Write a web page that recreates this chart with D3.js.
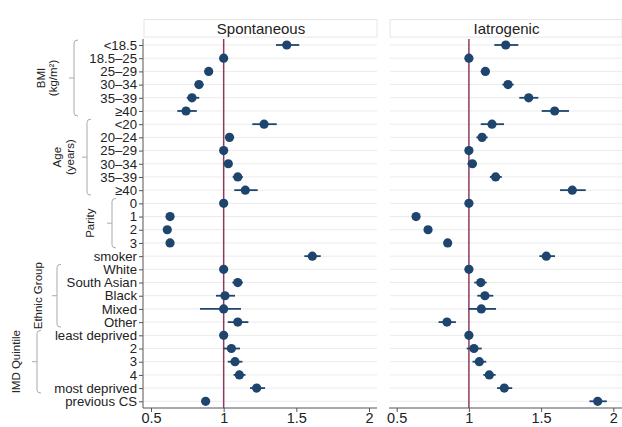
<!DOCTYPE html>
<html><head><meta charset="utf-8">
<script src="https://cdn.jsdelivr.net/npm/d3@7"></script>
<style>
html,body{margin:0;padding:0;background:#fff;}
svg{display:block;font-family:"Liberation Sans",Arial,Helvetica,sans-serif;}
</style></head><body>
<svg id="c" width="622" height="427"></svg>
<script>
const rowLabels = ["<18.5","18.5–25","25–29","30–34","35–39","≥40",
  "<20","20–24","25–29","30–34","35–39","≥40",
  "0","1","2","3","smoker",
  "White","South Asian","Black","Mixed","Other",
  "least deprived","2","3","4","most deprived","previous CS"];

const spontEst = [1.434,1,0.897,0.830,0.782,0.741, 1.278,1.040,1,1.032,1.097,1.149, 1,0.631,0.612,0.631, 1.610, 1,1.097,1.009,1.000,1.097, 1,1.053,1.078,1.108,1.227, 0.876];
const spontLo  = [1.360,null,0.870,0.800,0.746,0.681, 1.197,1.010,null,1.010,1.062,1.073, null,0.615,0.597,0.615, 1.555, null,1.060,0.947,0.837,1.028, null,1.000,1.028,1.068,1.181, 0.848];
const spontHi  = [1.520,null,0.925,0.862,0.832,0.815, 1.365,1.072,null,1.055,1.132,1.234, null,0.648,0.628,0.648, 1.668, null,1.132,1.078,1.119,1.170, null,1.112,1.129,1.150,1.285, 0.905];

const iatroEst = [1.255,1,1.114,1.271,1.414,1.594, 1.160,1.091,1,1.024,1.185,1.716, 1,0.634,0.717,0.853, 1.536, 1,1.082,1.111,1.086,0.848, 1,1.035,1.072,1.141,1.245, 1.892];
const iatroLo  = [1.176,null,1.082,1.232,1.349,1.504, 1.082,1.052,null,0.990,1.145,1.631, null,0.620,0.697,0.827, 1.488, null,1.037,1.058,0.996,0.790, null,0.985,1.025,1.100,1.195, 1.835];
const iatroHi  = [1.342,null,1.145,1.310,1.481,1.693, 1.243,1.130,null,1.055,1.228,1.809, null,0.648,0.740,0.880, 1.596, null,1.123,1.169,1.188,0.910, null,1.089,1.120,1.185,1.300, 1.955];

const groupNames = [["BMI","(kg/m²)"],["Age","(years)"],["Parity"],["Ethnic Group"],["IMD Quintile"]];
const groupStart = [0,6,12,17,22];
const groupEnd   = [5,11,15,21,26];

const xTicks = [0.5,1,1.5,2];
const panelTitles = ["Spontaneous","Iatrogenic"];

// layout
const svg = d3.select("#c");
const y = d3.scalePoint().domain(d3.range(rowLabels.length)).range([45,401.3]);
const axisY = 408;
const panels = [
  {title: panelTitles[0], left:143, right:377, x: d3.scaleLinear().domain([0.5,2]).range([151,369]), est:spontEst, lo:spontLo, hi:spontHi, yaxis:true},
  {title: panelTitles[1], left:389, right:622, x: d3.scaleLinear().domain([0.5,2]).range([396.7,613.3]), est:iatroEst, lo:iatroLo, hi:iatroHi, yaxis:false}
];
const dotCol = "#1d456e", refCol = "#8e3a5e", gridCol = "#ebebeb", axisCol = "#555";

panels.forEach(p => {
  const g = svg.append("g");
  // title box
  g.append("rect").attr("x",p.left+1).attr("y",19.5).attr("width",p.right-p.left-1).attr("height",17.5)
    .attr("fill","#fff").attr("stroke","#e6e6e6").attr("stroke-width",1);
  g.append("text").attr("x",(p.left+p.right)/2+1).attr("y",28.5).attr("text-anchor","middle")
    .attr("dominant-baseline","central").attr("font-size",15).attr("fill","#222").text(p.title);
  // gridlines
  g.selectAll(".grid").data(d3.range(rowLabels.length)).join("line")
    .attr("x1",p.left+1).attr("x2",p.right).attr("y1",d=>y(d)).attr("y2",d=>y(d))
    .attr("stroke",gridCol).attr("stroke-width",1);
  // reference line
  g.append("line").attr("x1",p.x(1)).attr("x2",p.x(1)).attr("y1",39).attr("y2",axisY)
    .attr("stroke",refCol).attr("stroke-width",1.5);
  // x axis
  const ax = g.append("g").attr("transform",`translate(0,${axisY})`)
    .call(d3.axisBottom(p.x).tickValues(xTicks).tickFormat(d3.format("")).tickSize(4).tickSizeOuter(0));
  ax.select(".domain").remove();
  ax.append("line").attr("x1",p.left).attr("x2",p.right).attr("y1",0).attr("y2",0).attr("stroke",axisCol).attr("stroke-width",1);
  ax.selectAll(".tick line").attr("stroke",axisCol);
  ax.selectAll(".tick text").attr("font-size",14.5).attr("fill","#222").attr("y",5).attr("dy","0.71em")
    .attr("font-family","'Liberation Sans',Arial,sans-serif");
  // y axis
  if (p.yaxis) {
    const ya = g.append("g").attr("transform",`translate(${p.left},0)`)
      .call(d3.axisLeft(y).tickFormat(i=>rowLabels[i]).tickSize(4).tickSizeOuter(0));
    ya.select(".domain").attr("d",`M0,39V${axisY}`).attr("stroke",axisCol);
    ya.selectAll(".tick line").attr("stroke",axisCol);
    ya.selectAll(".tick text").attr("font-size",13.2).attr("fill","#222").attr("x",-6)
      .attr("font-family","'Liberation Sans',Arial,sans-serif");
  }
  // CIs
  const idx = d3.range(rowLabels.length).filter(i => p.lo[i] !== null);
  g.selectAll(".ci").data(idx).join("line")
    .attr("x1",i=>p.x(p.lo[i])).attr("x2",i=>p.x(p.hi[i])).attr("y1",i=>y(i)).attr("y2",i=>y(i))
    .attr("stroke",dotCol).attr("stroke-width",1.8);
  // dots
  g.selectAll(".dot").data(d3.range(rowLabels.length)).join("circle")
    .attr("cx",i=>p.x(p.est[i])).attr("cy",i=>y(i)).attr("r",4.6).attr("fill",dotCol);
});

// group brackets
const bracketX = [74,87,112,57,37];
const labelX = [47,63.5,90,38,16];
const bc = "#aaa";
groupNames.forEach((names,k) => {
  const y0 = y(groupStart[k]) - 5, y1 = y(groupEnd[k]) + 5, bx = bracketX[k], ym = (y0+y1)/2;
  svg.append("path")
    .attr("d",`M${bx+4},${y0}Q${bx},${y0} ${bx},${y0+3}V${y1-3}Q${bx},${y1} ${bx+4},${y1}M${bx},${ym}H${bx-5}`)
    .attr("fill","none").attr("stroke",bc).attr("stroke-width",1);
  const t = svg.append("text").attr("transform",`translate(${labelX[k]},${ym}) rotate(-90)`)
    .attr("text-anchor","middle").attr("font-size",11.5).attr("fill","#222");
  const n = names.length;
  names.forEach((s,j) => {
    t.append("tspan").attr("x",0).attr("y",(j-(n-1)/2)*12.5).attr("dominant-baseline","central").text(s);
  });
});
</script>
</body></html>
